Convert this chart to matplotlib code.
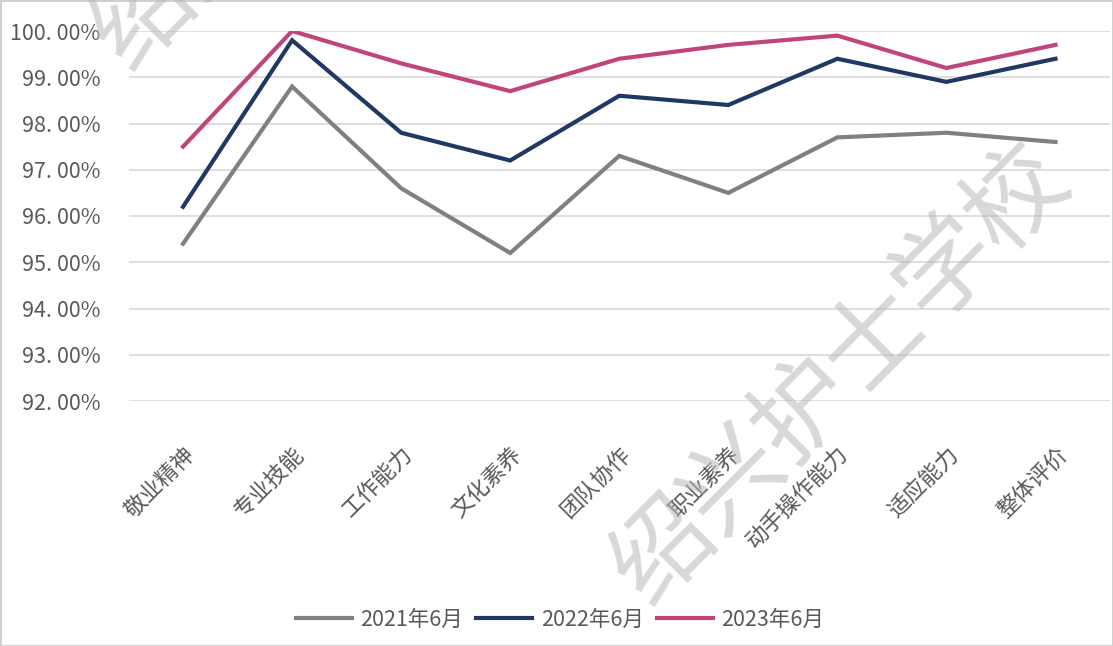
import matplotlib.pyplot as plt
from matplotlib.ticker import FuncFormatter

plt.rcParams['font.family'] = ['Noto Sans CJK SC', 'DejaVu Sans']

categories = ["敬业精神", "专业技能", "工作能力", "文化素养", "团队协作",
              "职业素养", "动手操作能力", "适应能力", "整体评价"]
s2021 = [95.4, 98.8, 96.6, 95.2, 97.3, 96.5, 97.7, 97.8, 97.6]
s2022 = [96.2, 99.8, 97.8, 97.2, 98.6, 98.4, 99.4, 98.9, 99.4]
s2023 = [97.5, 100.0, 99.3, 98.7, 99.4, 99.7, 99.9, 99.2, 99.7]
labels = ["2021年6月", "2022年6月", "2023年6月"]
colors = ["#808080", "#1f3864", "#c0457a"]
yticks = [92, 93, 94, 95, 96, 97, 98, 99, 100]

W, H = 1113, 646
fig = plt.figure(figsize=(W / 100, H / 100), dpi=100)
ax = fig.add_axes([128.5 / W, 1 - 401 / H, (1110 - 128.5) / W, (401 - 31) / H])

x = list(range(len(categories)))
for s, lab, c in zip([s2021, s2022, s2023], labels, colors):
    ax.plot(x, s, color=c, lw=3, label=lab, solid_joinstyle="miter", zorder=3)

ax.set_xlim(-0.5, len(categories) - 0.5)
ax.set_ylim(92, 100)
ax.set_yticks(yticks)
ax.yaxis.set_major_formatter(FuncFormatter(lambda v, p: f"{v:.2f}%".replace(".", ". ")))
ax.grid(axis="y", color="#d9d9d9", lw=1.2)
ax.set_axisbelow(True)
for sp in ax.spines.values():
    sp.set_visible(False)
ax.tick_params(axis="y", length=0, pad=20, labelsize=15.5, labelcolor="#595959")
ax.tick_params(axis="x", length=0, pad=30, labelsize=16, labelcolor="#595959")
ax.set_xticks(x)
ax.set_xticklabels(categories, rotation=45, ha="right", va="top", rotation_mode="anchor")

leg = fig.legend(loc="center", bbox_to_anchor=(560 / W, 1 - 620 / H), ncol=3, frameon=False,
                 fontsize=15.5, handlelength=2.6, handletextpad=0.4, columnspacing=0.6)
for t in leg.get_texts():
    t.set_color("#595959")

# watermark
wm = "绍兴护士学校"
fig.text(840 / W, 1 - 375 / H, wm, fontsize=72, color="#b8b8b8", alpha=0.55,
         rotation=45, ha="center", va="center", rotation_mode="anchor", zorder=10)
fig.text(320 / W, 1 + 160 / H, wm, fontsize=72, color="#b8b8b8", alpha=0.55,
         rotation=45, ha="center", va="center", rotation_mode="anchor", zorder=10)

fig.patch.set_edgecolor("#d0d0d0")
fig.patch.set_linewidth(2)

fig.savefig("out.png", dpi=100)
